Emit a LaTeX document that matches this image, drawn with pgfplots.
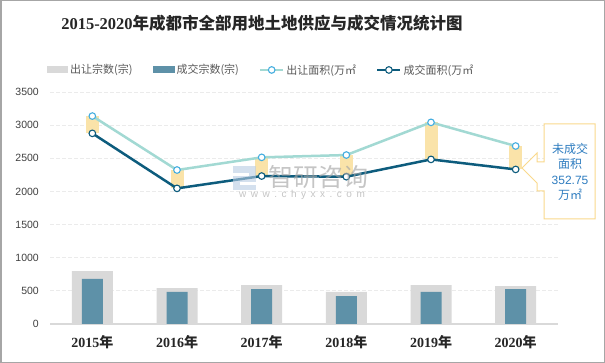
\documentclass[border=0pt]{standalone}
\usepackage{pgfplots}
\pgfplotsset{compat=1.18}
\usepackage{fontspec}
\setmainfont{Liberation Sans}
\newfontfamily\cjk{Noto Sans CJK SC}
\newfontfamily\serifb{Liberation Serif}
\definecolor{barA}{HTML}{D9D9D9}
\definecolor{barB}{HTML}{5E91A8}
\definecolor{yel}{HTML}{FAE3A9}
\definecolor{lineA}{HTML}{A2D9D3}
\definecolor{lineB}{HTML}{0D5C7D}
\definecolor{markA}{HTML}{45AEE0}
\definecolor{callc}{HTML}{FAD98C}
\definecolor{calltext}{HTML}{2F7DC0}
\definecolor{legc}{HTML}{595959}
\definecolor{tickc}{HTML}{404040}
\definecolor{titlec}{HTML}{262626}
\definecolor{gridc}{HTML}{EBEBEB}
\definecolor{axisc}{HTML}{D9D9D9}
\definecolor{borderc}{HTML}{A6A6A6}
\definecolor{wmc}{HTML}{A6A6A6}
\definecolor{wmb}{HTML}{B8CCE4}
\newcommand{\yr}[1]{{\serifb\bfseries #1}{\cjk\bfseries 年}}
\pgfplotsset{
  lineleg/.style={legend image code/.code={\draw[mark repeat=2,mark phase=2,##1] plot coordinates {(0bp,0bp) (11.5bp,0bp) (23bp,0bp)};}},
  barAleg/.style={legend image code/.code={\fill[barA] (0bp,-3.5bp) rectangle (21bp,3.5bp);}},
  barBleg/.style={legend image code/.code={\fill[barB] (0bp,-3.5bp) rectangle (22bp,3.5bp);}},
}
\pgfplotstableread{
x  sup   deal  supn  dealn  diff
0  3137  2876  799   679    261
1  2323  2046  543   483    277
2  2514  2232  588   528    282
3  2549  2222  483   422    327
4  3042  2483  588   483    559
5  2685  2332  573   528    353
}\datatable
\begin{document}
\begin{tikzpicture}
\fill[white] (0,0) rectangle (605bp,363bp);
\draw[draw=borderc, line width=1.5bp] (0.75bp,0.75bp) rectangle (604.25bp,362.25bp);
\useasboundingbox (0,0) rectangle (605bp,363bp);
\node[font=\cjk\bfseries\fontsize{16.5bp}{19bp}\selectfont, text=titlec] at (262bp,340bp) {{\serifb\bfseries 2015-2020}年成都市全部用地土地供应与成交情况统计图};
\begin{axis}[
  at={(50bp,39bp)}, anchor=south west, scale only axis,
  width=508bp, height=232bp,
  xmin=-0.5, xmax=5.5, ymin=0, ymax=3500,
  xtick={0,...,5},
  xticklabels={\yr{2015},\yr{2016},\yr{2017},\yr{2018},\yr{2019},\yr{2020}},
  ytick={0,500,...,3500},
  axis line style={draw=none},
  major tick length=0pt,
  ymajorgrids,
  grid style={draw=gridc, line width=0.8bp, dash pattern=on 4bp off 2bp},
  extra y ticks={0}, extra y tick labels={},
  extra y tick style={grid style={draw=axisc, solid, line width=1.2bp}},
  /pgf/number format/assume math mode=true,
  /pgf/number format/1000 sep={},
  yticklabel style={font=\fontsize{10.5bp}{12bp}\selectfont, text=tickc, anchor=east, inner sep=0pt, xshift=-11bp},
  xticklabel style={font=\fontsize{14bp}{16bp}\selectfont, text=titlec, anchor=center, yshift=-18bp},
  legend columns=4,
  legend cell align=left,
  legend style={draw=none, fill=none, font=\cjk\fontsize{11bp}{13bp}\selectfont, text=legc,
    at={(axis description cs:-0.012,1.095)}, anchor=west,
    /tikz/every even column/.append style={column sep=18bp}},
]
\addplot[ybar, bar width=41bp, bar shift=0pt, fill=barA, draw=none, barAleg]
  table[x=x, y=supn] {\datatable};
\addlegendentry{出让宗数(宗)}
\addplot[ybar, bar width=21bp, bar shift=0pt, fill=barB, draw=none, barBleg]
  table[x=x, y=dealn] {\datatable};
\addlegendentry{成交宗数(宗)}
\addplot[forget plot, draw=none, mark=none,
  error bars/.cd, y dir=plus, y explicit, error mark=none,
  error bar style={line width=13bp, draw=yel}]
  table[x=x, y=deal, y error=diff] {\datatable};
\addplot[draw=lineA, line width=2.5bp, mark=*,
  mark options={fill=white, draw=markA, line width=1.1bp, solid}, mark size=3.3bp, lineleg]
  table[x=x, y=sup] {\datatable};
\addlegendentry{出让面积(万㎡}
\addplot[draw=lineB, line width=2.5bp, mark=*,
  mark options={fill=white, draw=lineB, line width=1.1bp, solid}, mark size=3.3bp, lineleg]
  table[x=x, y=deal] {\datatable};
\addlegendentry{成交面积(万㎡}
\end{axis}
% watermark
\fill[wmb, opacity=0.6] (233bp,190bp) rectangle (256bp,197bp);
\fill[wmb, opacity=0.6] (249bp,181bp) rectangle (256bp,190bp);
\fill[wmb, opacity=0.6] (233bp,181bp) rectangle (249bp,187bp);
\fill[wmb, opacity=0.6] (233bp,173bp) rectangle (240bp,181bp);
\fill[wmb, opacity=0.6] (240bp,173bp) rectangle (256bp,178bp);
\node[font=\cjk\fontsize{25bp}{25bp}\selectfont, text=wmc, opacity=0.65] at (318bp,186bp) {智研咨询};
\node[font=\fontsize{10bp}{10bp}\selectfont, text=wmc, opacity=0.65] at (302bp,168bp)
  {w\hspace{4.5bp}w\hspace{4.5bp}w\hspace{4.5bp}.\hspace{4.5bp}c\hspace{4.5bp}h\hspace{4.5bp}y\hspace{4.5bp}x\hspace{4.5bp}x\hspace{4.5bp}.\hspace{4.5bp}c\hspace{4.5bp}o\hspace{4.5bp}m};
% callout
\draw[draw=callc, fill=white, line width=1bp]
  (544bp,239bp) -- (595bp,239bp) -- (595bp,144bp) -- (544bp,144bp) -- (544bp,172bp)
  -- (537bp,172bp) -- (537bp,180bp) -- (522bp,195bp) -- (537bp,210bp) -- (537bp,201bp)
  -- (544bp,201bp) -- cycle;
\node[font=\cjk\fontsize{12bp}{15.5bp}\selectfont, text=calltext, align=center] at (570bp,191bp)
  {未成交\\面积\\{\fontspec{Liberation Sans}352.75}\\万㎡};
\end{tikzpicture}
\end{document}
